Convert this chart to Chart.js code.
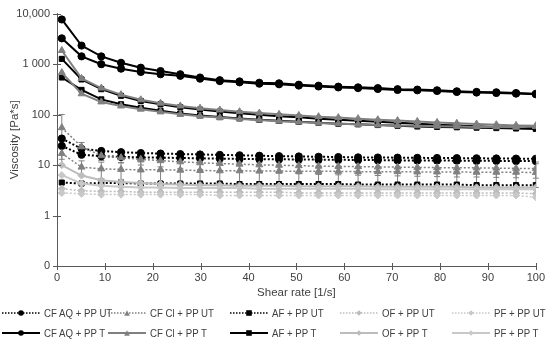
<!DOCTYPE html>
<html>
<head>
<meta charset="utf-8">
<script src="https://cdn.jsdelivr.net/npm/chart.js@4"></script>
<style>
  html, body { margin: 0; padding: 0; background: #fff; }
  #wrap { position: relative; width: 550px; height: 343px; }
  #legend { position: absolute; left: 0; top: 304px; width: 550px; height: 39px;
            font-family: "Liberation Sans", Arial, sans-serif; font-size: 11.5px; color: #404040; }
  .item { position: absolute; display: flex; align-items: center; white-space: nowrap; height: 14px; }
  .item canvas { margin-right: 4px; }
  .item span { display: inline-block; transform: scaleX(0.84); transform-origin: left center; }
</style>
</head>
<body>
<div id="wrap">
  <canvas id="myChart" width="550" height="343"></canvas>
  <div id="legend"></div>
</div>
<script>
// --- DATOS ---
const shearRate = [1, 5.125, 9.25, 13.375, 17.5, 21.625, 25.75, 29.875, 34, 38.125, 42.25, 46.375, 50.5,
                   54.625, 58.75, 62.875, 67, 71.125, 75.25, 79.375, 83.5, 87.625, 91.75, 95.875, 100];

// tratados (T)
const cfAqT_a = [7650, 2325, 1420, 1060, 848, 728, 629, 542, 479, 454, 427, 416, 390, 373, 357, 346, 334, 318, 312, 303, 289, 281, 276, 267, 258];
const cfAqT_b = [3235, 1422, 995, 811, 697, 629, 585, 515, 460, 435, 410, 398, 375, 360, 345, 334, 322, 308, 302, 293, 281, 273, 268, 260, 252];
const cfClT_a = [1860, 520, 335, 248, 196, 168, 148, 134, 123, 114, 107, 101, 96, 91, 87, 83, 79, 76, 73, 70, 67, 65, 63, 61, 60];
const cfClT_b = [678, 258, 178, 148, 128, 113, 101, 93, 87, 82, 78, 74, 71, 68, 66, 64, 62, 61, 60, 59, 58, 57, 57, 56, 58];
const afT_a = [1268, 496, 318, 235, 186, 160, 140, 126, 115, 106, 99, 93, 88, 83, 79, 75, 72, 69, 66, 63, 61, 59, 57, 55, 54];
const afT_b = [542, 308, 200, 160, 136, 119, 105, 96, 89, 84, 79, 75, 72, 69, 66, 64, 62, 60, 58, 57, 56, 55, 54, 53, 52];
const ofT = [10, 6.2, 5.0, 4.6, 4.4, 4.2, 4.1, 4.0, 4.0, 3.9, 3.9, 3.9, 3.8, 3.8, 3.8, 3.8, 3.7, 3.7, 3.7, 3.7, 3.7, 3.6, 3.6, 3.6, 3.6];
const pfT = [6.3, 4.3, 3.9, 3.7, 3.6, 3.6, 3.5, 3.5, 3.5, 3.5, 3.4, 3.4, 3.4, 3.4, 3.4, 3.4, 3.3, 3.3, 3.3, 3.3, 3.3, 3.3, 3.3, 3.3, 3.3];

// sin tratar (UT)
const cfAqUT_a = [33.5, 21, 19, 18, 17.3, 16.9, 16.5, 16.2, 15.9, 15.6, 15.3, 15, 14.8, 14.6, 14.4, 14.2, 14.1, 14, 13.9, 13.8, 13.7, 13.6, 13.5, 13.4, 13.3];
const cfAqUT_b = [24, 16, 15, 14.5, 14.2, 14, 13.8, 13.6, 13.4, 13.2, 13.1, 13, 12.9, 12.8, 12.7, 12.6, 12.5, 12.4, 12.3, 12.3, 12.2, 12.1, 12.1, 12, 12];
const cfClUT_a = [55, 23, 15.3, 14, 13, 12.2, 11.6, 11.1, 10.7, 10.4, 10.1, 9.9, 9.7, 9.5, 9.4, 9.3, 9.2, 9.1, 9, 8.9, 8.8, 8.8, 8.7, 8.6, 8.5];
const cfClUT_b = [17, 9.1, 8.4, 8.2, 8.0, 8.1, 7.9, 7.8, 7.7, 7.7, 7.6, 7.6, 7.5, 7.5, 7.5, 7.4, 7.4, 7.4, 7.3, 7.3, 7.3, 7.2, 7.2, 7.2, 7.1];
const afUT = [4.5, 4.3, 4.4, 4.4, 4.3, 4.3, 4.3, 4.3, 4.3, 4.2, 4.2, 4.2, 4.2, 4.2, 4.2, 4.1, 4.1, 4.1, 4.1, 4.1, 4.1, 4.0, 4.0, 4.0, 4.0];
const ofUT = [3.4, 3.1, 3.0, 3.0, 2.9, 2.9, 2.9, 2.9, 2.9, 2.9, 2.9, 2.9, 2.8, 2.8, 2.8, 2.8, 2.8, 2.8, 2.8, 2.8, 2.8, 2.8, 2.8, 2.8, 2.7];
const pfUT = [2.8, 2.7, 2.6, 2.6, 2.6, 2.6, 2.6, 2.6, 2.5, 2.5, 2.5, 2.5, 2.5, 2.5, 2.5, 2.5, 2.5, 2.5, 2.5, 2.5, 2.5, 2.5, 2.5, 2.5, 2.3];

// barras de error (desviación)
const cfClUT_aErr = [45, 5, 3, 3, 3, 3, 3, 3, 3, 3, 3, 3, 3, 3, 3, 3, 3, 3, 3, 3, 3, 3, 3, 3, 3];
const cfClUT_bErr = [4, 3, 3, 3, 3.5, 3.5, 3.5, 3.5, 3.5, 3.5, 3.5, 3.5, 3.5, 3.5, 3.5, 3.5, 3.5, 3.5, 3.5, 3.5, 3.5, 3.5, 3.5, 3.5, 3.5];

const yTickValues = [0.1, 1, 10, 100, 1000, 10000];
const yTickLabels = ['0', '1', '10', '100', '1 000', '10,000'];
const xTickValues = [0, 10, 20, 30, 40, 50, 60, 70, 80, 90, 100];

const legendNames = ['CF AQ + PP UT', 'CF Cl + PP UT', 'AF + PP UT', 'OF + PP UT', 'PF + PP UT',
                     'CF AQ + PP T', 'CF Cl + PP T', 'AF + PP T', 'OF + PP T', 'PF + PP T'];

// estilos
const NEGRO = '#000000', GRIS = '#808080', GRIS_CLARO = '#bcbcbc', GRIS_PF = '#c8c8c8';
const PUNTEADO = [2, 2];

function serie(data, color, marker, dotted, extra) {
    return Object.assign({
        data: data.map((v, i) => ({ x: shearRate[i], y: v })),
        borderColor: color,
        backgroundColor: color,
        pointBackgroundColor: color,
        pointBorderColor: color,
        pointStyle: marker,
        pointRadius: marker === 'triangle' ? 4 : 3.6,
        pointBorderWidth: 1,
        borderWidth: 2,
        borderDash: dotted ? PUNTEADO : [],
        tension: 0,
        fill: false
    }, extra || {});
}

const datasets = [
    serie(pfUT, GRIS_PF, 'rectRot', true, { borderWidth: 1.5 }),
    serie(ofUT, GRIS_CLARO, 'rectRot', true, { borderWidth: 1.5 }),
    serie(pfT, GRIS_PF, 'rectRot', false),
    serie(ofT, GRIS_CLARO, 'rectRot', false),
    serie(afUT, NEGRO, 'rect', true),
    serie(cfClUT_b, GRIS, 'triangle', true, { borderWidth: 1.5, errors: cfClUT_bErr }),
    serie(cfClUT_a, GRIS, 'triangle', true, { borderWidth: 1.5, errors: cfClUT_aErr }),
    serie(cfAqUT_b, NEGRO, 'circle', true),
    serie(cfAqUT_a, NEGRO, 'circle', true),
    serie(cfClT_b, GRIS, 'triangle', false),
    serie(cfClT_a, GRIS, 'triangle', false),
    serie(afT_b, NEGRO, 'rect', false),
    serie(afT_a, NEGRO, 'rect', false),
    serie(cfAqT_b, NEGRO, 'circle', false),
    serie(cfAqT_a, NEGRO, 'circle', false)
];

// --- PLUGINS ---
// barras de error verticales
const errorBars = {
    id: 'errorBars',
    beforeDatasetsDraw(chart) {
        const { ctx, scales: { x, y } } = chart;
        chart.data.datasets.forEach(ds => {
            if (!ds.errors) return;
            ctx.save();
            ctx.strokeStyle = ds.borderColor;
            ctx.lineWidth = 1;
            ds.data.forEach((p, i) => {
                const e = ds.errors[i];
                const px = x.getPixelForValue(p.x);
                const top = y.getPixelForValue(p.y + e);
                const bot = y.getPixelForValue(Math.max(p.y - e, 0.11));
                ctx.beginPath();
                ctx.moveTo(px, top); ctx.lineTo(px, bot);
                ctx.moveTo(px - 3, top); ctx.lineTo(px + 3, top);
                ctx.moveTo(px - 3, bot); ctx.lineTo(px + 3, bot);
                ctx.stroke();
            });
            ctx.restore();
        });
    }
};

// marcas de los ejes cruzando la línea
const axisTicks = {
    id: 'axisTicks',
    afterDraw(chart) {
        const { ctx, scales: { x, y } } = chart;
        ctx.save();
        ctx.strokeStyle = '#595959';
        ctx.lineWidth = 1;
        ctx.beginPath();
        xTickValues.forEach(v => {
            const px = Math.round(x.getPixelForValue(v)) + 0.5;
            ctx.moveTo(px, y.bottom - 3); ctx.lineTo(px, y.bottom + 4);
        });
        yTickValues.forEach(v => {
            const py = Math.round(y.getPixelForValue(v)) + 0.5;
            ctx.moveTo(x.left - 4, py); ctx.lineTo(x.left + 4, py);
        });
        ctx.stroke();
        ctx.restore();
    }
};

const FONT = '"Liberation Sans", Arial, sans-serif';

new Chart(document.getElementById('myChart'), {
    type: 'line',
    data: { datasets },
    options: {
        responsive: false,
        animation: false,
        layout: { padding: { left: 0, right: 12, top: 8, bottom: 43 } },
        plugins: { legend: { display: false }, tooltip: { enabled: false } },
        scales: {
            x: {
                type: 'linear', min: 0, max: 100,
                afterBuildTicks: s => { s.ticks = xTickValues.map(v => ({ value: v })); },
                grid: { display: false, drawTicks: false },
                border: { display: true, color: '#595959', width: 1 },
                ticks: { color: '#404040', font: { family: FONT, size: 11 }, padding: 5, maxRotation: 0 },
                title: { display: true, text: 'Shear rate [1/s]', color: '#404040', font: { family: FONT, size: 11.5 }, padding: { top: 0, bottom: 0 } },
                afterFit: s => { s.height = 34; }
            },
            y: {
                type: 'logarithmic', min: 0.1, max: 10000,
                afterBuildTicks: s => { s.ticks = yTickValues.map(v => ({ value: v })); },
                grid: { display: false, drawTicks: false },
                border: { display: true, color: '#595959', width: 1 },
                ticks: {
                    color: '#404040', font: { family: FONT, size: 11 }, padding: 7,
                    callback: (v) => yTickLabels[yTickValues.indexOf(v)]
                },
                title: { display: true, text: 'Viscosity [Pa*s]', color: '#404040', font: { family: FONT, size: 11.5 }, padding: { top: 8, bottom: 0 } },
                afterFit: s => { s.width = 57; }
            }
        }
    },
    plugins: [errorBars, axisTicks]
});

// --- LEYENDA (HTML) ---
const legendStyles = [
    { color: NEGRO, marker: 'circle', dotted: true },
    { color: GRIS, marker: 'triangle', dotted: true },
    { color: NEGRO, marker: 'rect', dotted: true },
    { color: GRIS_CLARO, marker: 'rectRot', dotted: true },
    { color: GRIS_PF, marker: 'rectRot', dotted: true },
    { color: NEGRO, marker: 'circle', dotted: false },
    { color: GRIS, marker: 'triangle', dotted: false },
    { color: NEGRO, marker: 'rect', dotted: false },
    { color: GRIS_CLARO, marker: 'rectRot', dotted: false },
    { color: GRIS_PF, marker: 'rectRot', dotted: false }
];
const legendCols = [2, 108, 230, 340, 452];

function muestra(st) {
    const c = document.createElement('canvas');
    c.width = 38; c.height = 10;
    const g = c.getContext('2d');
    g.strokeStyle = st.color; g.fillStyle = st.color;
    g.lineWidth = st.dotted ? 1.5 : 2;
    if (st.dotted) g.setLineDash([1.5, 1.5]);
    g.beginPath(); g.moveTo(0, 5); g.lineTo(38, 5); g.stroke();
    g.setLineDash([]);
    const r = 2.8;
    g.beginPath();
    if (st.marker === 'circle') g.arc(19, 5, r, 0, Math.PI * 2);
    else if (st.marker === 'rect') g.rect(19 - r, 5 - r, 2 * r, 2 * r);
    else if (st.marker === 'triangle') { g.moveTo(19, 5 - r); g.lineTo(19 + r, 5 + r); g.lineTo(19 - r, 5 + r); g.closePath(); }
    else { g.moveTo(19, 5 - r); g.lineTo(19 + r, 5); g.lineTo(19, 5 + r); g.lineTo(19 - r, 5); g.closePath(); }
    g.fill();
    return c;
}

const legendDiv = document.getElementById('legend');
legendNames.forEach((name, i) => {
    const item = document.createElement('div');
    item.className = 'item';
    item.style.left = legendCols[i % 5] + 'px';
    item.style.top = (i < 5 ? 2 : 22) + 'px';
    item.appendChild(muestra(legendStyles[i]));
    const t = document.createElement('span');
    t.textContent = name;
    item.appendChild(t);
    legendDiv.appendChild(item);
});
</script>
</body>
</html>
